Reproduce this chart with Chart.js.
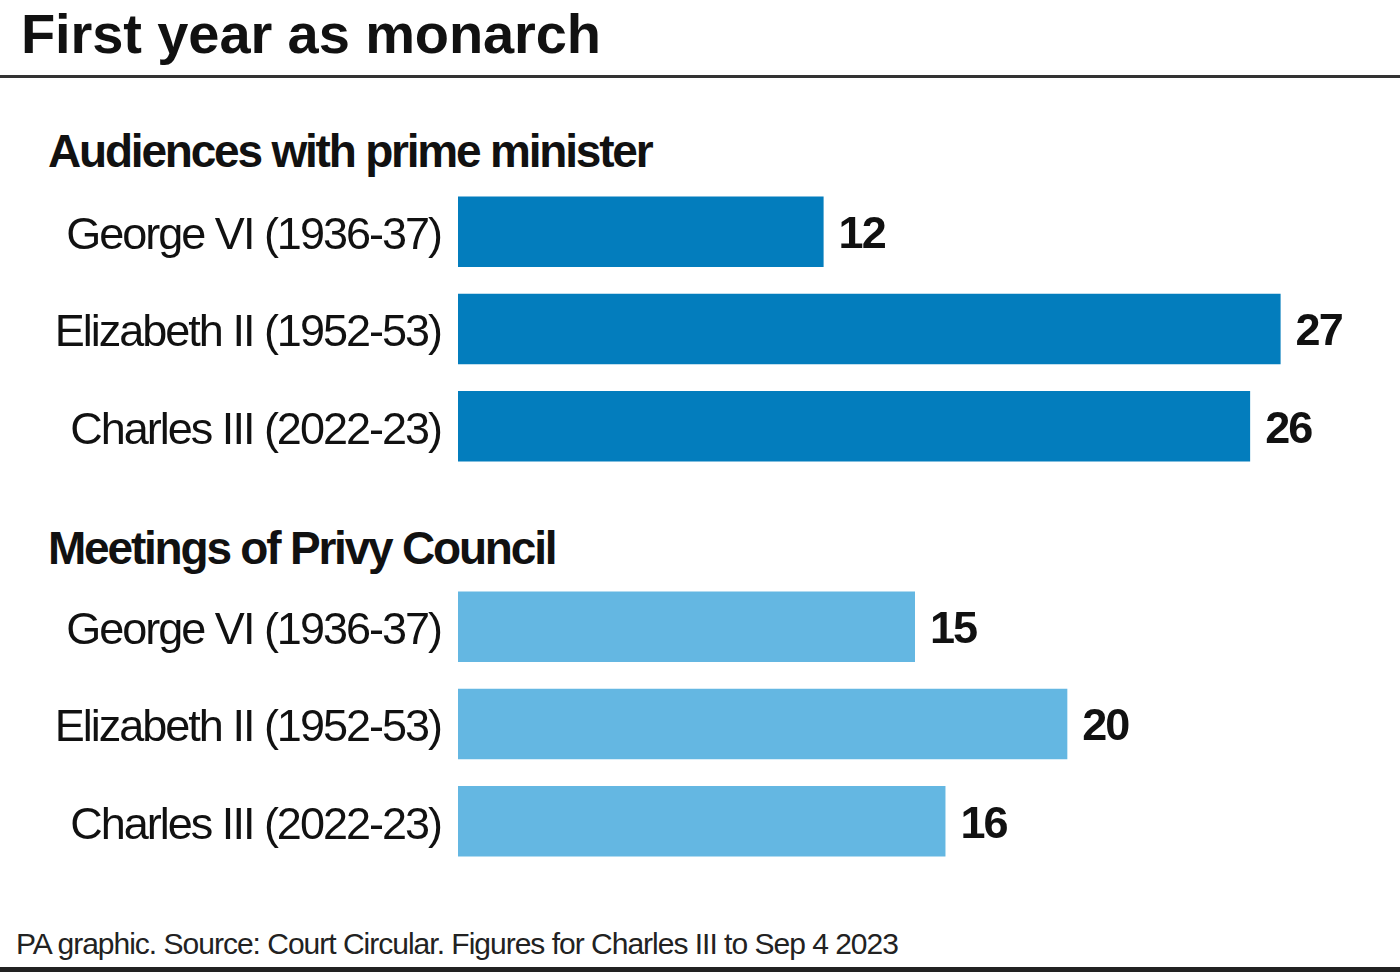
<!DOCTYPE html>
<html>
<head>
<meta charset="utf-8">
<script src="https://cdn.jsdelivr.net/npm/chart.js@4.4.1/dist/chart.umd.min.js"></script>
<style>
  html, body { margin: 0; padding: 0; background: #fff; }
  body { width: 1400px; height: 972px; position: relative; overflow: hidden; font-family: "Liberation Sans", Arial, sans-serif; color: #111; }
  .txt { position: absolute; white-space: nowrap; line-height: 1; }
  #title { left: 21px; top: 6px; font-size: 56px; font-weight: bold; letter-spacing: -0.1px; }
  #rule { position: absolute; left: 0; top: 75px; width: 1400px; height: 3px; background: #333; }
  .heading { left: 48px; font-size: 46px; font-weight: bold; letter-spacing: -2.2px; }
  #h1 { top: 128px; }
  #h2 { top: 525px; }
  #footer { left: 16px; top: 929px; font-size: 30px; letter-spacing: -1px; color: #222; }
  #baseBar { position: absolute; left: 0; top: 967px; width: 1400px; height: 5px; background: #222; }
  .chartBox { position: absolute; left: 0; width: 1400px; height: 292px; }
  #box1 { top: 183px; }
  #box2 { top: 578px; }
</style>
</head>
<body>
<div id="title" class="txt">First year as monarch</div>
<div id="rule"></div>
<div id="h1" class="txt heading">Audiences with prime minister</div>
<div class="chartBox" id="box1"><canvas id="chartAudiences" width="1400" height="292"></canvas></div>
<div id="h2" class="txt heading">Meetings of Privy Council</div>
<div class="chartBox" id="box2"><canvas id="chartPrivy" width="1400" height="292"></canvas></div>
<div id="footer" class="txt">PA graphic. Source: Court Circular. Figures for Charles III to Sep 4 2023</div>
<div id="baseBar"></div>
<script>
const monarchs = ["George VI (1936-37)", "Elizabeth II (1952-53)", "Charles III (2022-23)"];
const audiences = [12, 27, 26];
const privyMeetings = [15, 20, 16];
const axisMax = 30;

const fontFamily = "'Liberation Sans', Arial, sans-serif";

// tighter spacing for the tick labels
const tightText = {
  id: "tightText",
  beforeDraw(chart) {
    chart.ctx.letterSpacing = "-2px";
  },
};

const valueLabels = {
  id: "valueLabels",
  afterDatasetsDraw(chart) {
    const ctx = chart.ctx;
    const values = chart.data.datasets[0].data;
    ctx.save();
    ctx.font = `bold 45px ${fontFamily}`;
    ctx.letterSpacing = "-2px";
    ctx.fillStyle = "#111";
    ctx.textAlign = "left";
    ctx.textBaseline = "middle";
    chart.getDatasetMeta(0).data.forEach((bar, i) => {
      ctx.fillText(String(values[i]), bar.x + 15, bar.y + 4);
    });
    ctx.restore();
  },
};

function makeChart(canvasId, values, color) {
  const ctx = document.getElementById(canvasId).getContext("2d");
  return new Chart(ctx, {
    type: "bar",
    data: {
      labels: monarchs,
      datasets: [
        {
          data: values,
          backgroundColor: color,
          borderWidth: 0,
          barPercentage: 0.725,
          categoryPercentage: 1,
        },
      ],
    },
    options: {
      indexAxis: "y",
      responsive: false,
      animation: false,
      layout: { padding: { left: 0, right: 28, top: 0, bottom: 0 } },
      plugins: {
        legend: { display: false },
        tooltip: { enabled: false },
        title: { display: false },
      },
      scales: {
        x: {
          display: false,
          min: 0,
          max: axisMax,
        },
        y: {
          afterFit: (scale) => {
            scale.width = 458;
            scale.paddingTop = 0;
            scale.paddingBottom = 0;
          },
          grid: { display: false, drawTicks: false },
          border: { display: false },
          ticks: {
            color: "#111",
            padding: 17,
            labelOffset: 5,
            font: { family: fontFamily, size: 45 },
          },
        },
      },
    },
    plugins: [tightText, valueLabels],
  });
}

makeChart("chartAudiences", audiences, "#037dbd");
makeChart("chartPrivy", privyMeetings, "#64b7e2");
</script>
</body>
</html>
